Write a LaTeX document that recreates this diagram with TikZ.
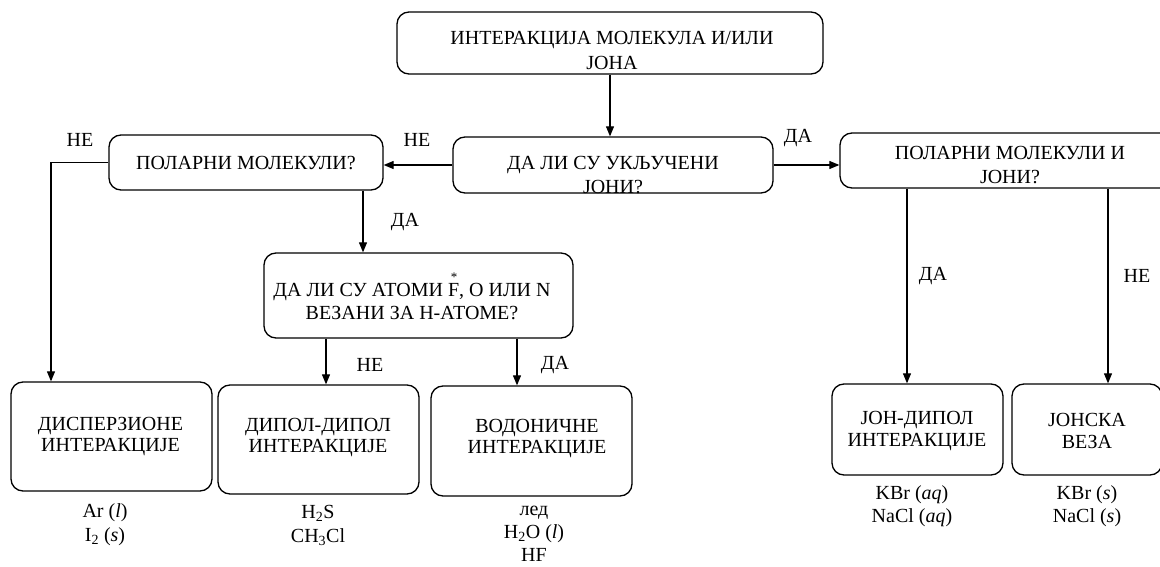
\documentclass[tikz,border=0pt]{standalone}
\usepackage{fontspec}
\setmainfont{Liberation Serif}
\usetikzlibrary{arrows.meta}
\begin{document}
\begin{tikzpicture}[x=1pt,y=-1pt,
  box/.style={draw, rounded corners=12pt, line width=1.3pt, inner sep=0pt},
  txt/.style={align=center, inner sep=0pt, font=\fontsize{20}{24}\selectfont},
  lbl/.style={inner sep=0pt, font=\fontsize{20}{24}\selectfont},
  arr/.style={line width=1.1pt, -{Triangle[length=10pt,width=8pt]}},
  ln/.style={line width=1.1pt}]
\path[use as bounding box, clip] (0,0) rectangle (1160,567);
% boxes
\node[box, minimum width=426pt, minimum height=62pt] (top) at (610,43) {};
\node[box, minimum width=320pt, minimum height=56pt] (q1) at (613,165) {};
\node[box, minimum width=274pt, minimum height=55pt] (pol) at (246,162.5) {};
\node[box, minimum width=342pt, minimum height=55pt] (ions) at (1011,160.5) {};
\node[box, minimum width=309pt, minimum height=85pt] (atoms) at (418.5,295.5) {};
\node[box, minimum width=201pt, minimum height=109pt] (disp) at (111.5,436.5) {};
\node[box, minimum width=201pt, minimum height=109pt] (dip) at (318.5,439.5) {};
\node[box, minimum width=201pt, minimum height=110pt] (hyd) at (531.5,441) {};
\node[box, minimum width=171pt, minimum height=91pt] (iondip) at (917.5,429.5) {};
\node[box, minimum width=150pt, minimum height=91pt] (ionic) at (1087,429.5) {};
% box texts
\node[txt, font=\fontsize{20}{25}\selectfont] (toptxt) at (612,50.5) {ИНТЕРАКЦИЈА МОЛЕКУЛА И/ИЛИ\\ЈОНА};
\node[txt] (q1txt) at (613,175) {ДА ЛИ СУ УКЉУЧЕНИ\\ЈОНИ?};
\node[txt] (poltxt) at (246,163) {ПОЛАРНИ МОЛЕКУЛИ?};
\node[txt] (ionstxt) at (1010,165) {ПОЛАРНИ МОЛЕКУЛИ И\\ЈОНИ?};
\node[txt, font=\fontsize{20}{23}\selectfont] (atomstxt) at (412,296.5) {ДА ЛИ СУ АТОМИ F\rlap{\raisebox{0.72em}{\kern-0.42em\fontsize{13}{13}\selectfont *}}, О ИЛИ N\\ВЕЗАНИ ЗА Н-АТОМЕ?};
\node[txt, font=\fontsize{20}{21}\selectfont] (disptxt) at (110.5,437) {ДИСПЕРЗИОНЕ\\ИНТЕРАКЦИЈЕ};
\node[txt, font=\fontsize{20}{21}\selectfont] (diptxt) at (318,438) {ДИПОЛ-ДИПОЛ\\ИНТЕРАКЦИЈЕ};
\node[txt, font=\fontsize{20}{21}\selectfont] (hydtxt) at (537,438.5) {ВОДОНИЧНЕ\\ИНТЕРАКЦИЈЕ};
\node[txt, font=\fontsize{20}{22}\selectfont] (iondiptxt) at (917,431) {ЈОН-ДИПОЛ\\ИНТЕРАКЦИЈЕ};
\node[txt, font=\fontsize{20}{22}\selectfont] (ionictxt) at (1087,431) {ЈОНСКА\\ВЕЗА};
% examples
\node[txt] (dispex) at (105,525) {Ar (\textit{l})\\I\textsubscript{2} (\textit{s})};
\node[txt] (dipex) at (318,525) {H\textsubscript{2}S\\CH\textsubscript{3}Cl};
\node[txt, font=\fontsize{20}{23}\selectfont] (hydex) at (534,534) {лед\\H\textsubscript{2}O (\textit{l})\\HF};
\node[txt, font=\fontsize{20}{23}\selectfont] (iondipex) at (912,506.5) {KBr (\textit{aq})\\NaCl (\textit{aq})};
\node[txt, font=\fontsize{20}{23}\selectfont] (ionicex) at (1087,506.5) {KBr (\textit{s})\\NaCl (\textit{s})};
% edge labels
\node[lbl] (l1) at (80,140) {НЕ};
\node[lbl] (l2) at (417,140) {НЕ};
\node[lbl] (l3) at (798,138) {ДА};
\node[lbl] (l4) at (405,222) {ДА};
\node[lbl] (l5) at (370,365) {НЕ};
\node[lbl] (l6) at (555,365) {ДА};
\node[lbl] (l7) at (933,276) {ДА};
\node[lbl] (l8) at (1137,276) {НЕ};
% connector coordinates
\coordinate (xd) at (51,0);
\coordinate (xa) at (363,0);
\coordinate (xn) at (326,0);
\coordinate (xy) at (517,0);
\coordinate (xi) at (907,0);
\coordinate (xj) at (1108,0);
% connectors
\draw[arr] (top.south) -- (top.south |- q1.north);
\draw[arr] (q1.west) -- (q1.west -| pol.east);
\draw[arr] (q1.east) -- (q1.east -| ions.west);
\draw[arr] (pol.west) -- (pol.west -| xd) -- (xd |- disp.north);
\draw[arr] (pol.south -| xa) -- (atoms.north -| xa);
\draw[arr] (atoms.south -| xn) -- (dip.north -| xn);
\draw[arr] (atoms.south -| xy) -- (hyd.north -| xy);
\draw[arr] (ions.south -| xi) -- (iondip.north -| xi);
\draw[arr] (ions.south -| xj) -- (ionic.north -| xj);
\end{tikzpicture}
\end{document}
